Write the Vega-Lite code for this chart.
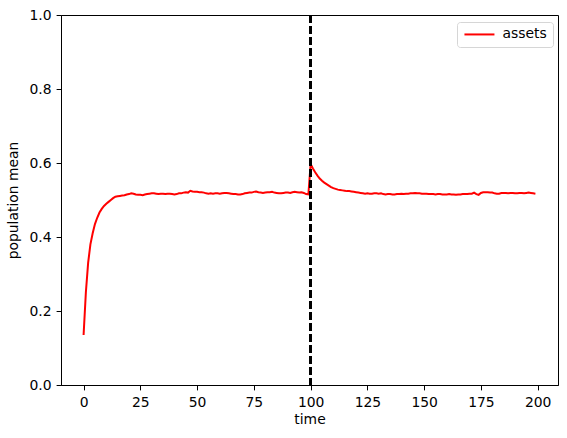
{
  "$schema": "https://vega.github.io/schema/vega-lite/v6.json",
  "width": 497,
  "height": 370,
  "autosize": {"type": "none"},
  "padding": {"left": 61, "top": 15, "right": 9, "bottom": 53},
  "background": "white",
  "data": {
    "values": [
      {"time": 0, "mean": 0.135}, {"time": 1, "mean": 0.25}, {"time": 2, "mean": 0.33}, {"time": 3, "mean": 0.38},
      {"time": 4, "mean": 0.41}, {"time": 5, "mean": 0.435}, {"time": 6, "mean": 0.452}, {"time": 7, "mean": 0.466},
      {"time": 8, "mean": 0.476}, {"time": 9, "mean": 0.484}, {"time": 10, "mean": 0.49}, {"time": 11, "mean": 0.495},
      {"time": 12, "mean": 0.5}, {"time": 13, "mean": 0.505}, {"time": 14, "mean": 0.509}, {"time": 15, "mean": 0.51},
      {"time": 16, "mean": 0.511}, {"time": 17, "mean": 0.512}, {"time": 18, "mean": 0.513}, {"time": 19, "mean": 0.515},
      {"time": 20, "mean": 0.516}, {"time": 21, "mean": 0.518}, {"time": 22, "mean": 0.517}, {"time": 23, "mean": 0.515},
      {"time": 24, "mean": 0.514}, {"time": 25, "mean": 0.514}, {"time": 26, "mean": 0.513}, {"time": 27, "mean": 0.515},
      {"time": 28, "mean": 0.516}, {"time": 29, "mean": 0.517}, {"time": 30, "mean": 0.518}, {"time": 31, "mean": 0.518},
      {"time": 32, "mean": 0.517}, {"time": 33, "mean": 0.516}, {"time": 34, "mean": 0.517}, {"time": 35, "mean": 0.517},
      {"time": 36, "mean": 0.516}, {"time": 37, "mean": 0.517}, {"time": 38, "mean": 0.517}, {"time": 39, "mean": 0.516},
      {"time": 40, "mean": 0.515}, {"time": 41, "mean": 0.516}, {"time": 42, "mean": 0.518}, {"time": 43, "mean": 0.518},
      {"time": 44, "mean": 0.52}, {"time": 45, "mean": 0.521}, {"time": 46, "mean": 0.52}, {"time": 47, "mean": 0.525},
      {"time": 48, "mean": 0.523}, {"time": 49, "mean": 0.522}, {"time": 50, "mean": 0.522}, {"time": 51, "mean": 0.521},
      {"time": 52, "mean": 0.521}, {"time": 53, "mean": 0.52}, {"time": 54, "mean": 0.518}, {"time": 55, "mean": 0.517},
      {"time": 56, "mean": 0.518}, {"time": 57, "mean": 0.517}, {"time": 58, "mean": 0.518}, {"time": 59, "mean": 0.518},
      {"time": 60, "mean": 0.517}, {"time": 61, "mean": 0.518}, {"time": 62, "mean": 0.519}, {"time": 63, "mean": 0.519},
      {"time": 64, "mean": 0.518}, {"time": 65, "mean": 0.517}, {"time": 66, "mean": 0.516}, {"time": 67, "mean": 0.516},
      {"time": 68, "mean": 0.515}, {"time": 69, "mean": 0.515}, {"time": 70, "mean": 0.516}, {"time": 71, "mean": 0.518},
      {"time": 72, "mean": 0.519}, {"time": 73, "mean": 0.52}, {"time": 74, "mean": 0.52}, {"time": 75, "mean": 0.522},
      {"time": 76, "mean": 0.523}, {"time": 77, "mean": 0.521}, {"time": 78, "mean": 0.52}, {"time": 79, "mean": 0.519},
      {"time": 80, "mean": 0.52}, {"time": 81, "mean": 0.521}, {"time": 82, "mean": 0.521}, {"time": 83, "mean": 0.522},
      {"time": 84, "mean": 0.52}, {"time": 85, "mean": 0.519}, {"time": 86, "mean": 0.518}, {"time": 87, "mean": 0.518},
      {"time": 88, "mean": 0.519}, {"time": 89, "mean": 0.52}, {"time": 90, "mean": 0.52}, {"time": 91, "mean": 0.519},
      {"time": 92, "mean": 0.521}, {"time": 93, "mean": 0.522}, {"time": 94, "mean": 0.521}, {"time": 95, "mean": 0.52},
      {"time": 96, "mean": 0.521}, {"time": 97, "mean": 0.519}, {"time": 98, "mean": 0.516}, {"time": 99, "mean": 0.515},
      {"time": 100, "mean": 0.597}, {"time": 101, "mean": 0.585}, {"time": 102, "mean": 0.575}, {"time": 103, "mean": 0.566},
      {"time": 104, "mean": 0.558}, {"time": 105, "mean": 0.552}, {"time": 106, "mean": 0.547}, {"time": 107, "mean": 0.543},
      {"time": 108, "mean": 0.539}, {"time": 109, "mean": 0.535}, {"time": 110, "mean": 0.532}, {"time": 111, "mean": 0.53},
      {"time": 112, "mean": 0.528}, {"time": 113, "mean": 0.527}, {"time": 114, "mean": 0.526}, {"time": 115, "mean": 0.525},
      {"time": 116, "mean": 0.524}, {"time": 117, "mean": 0.524}, {"time": 118, "mean": 0.523}, {"time": 119, "mean": 0.522},
      {"time": 120, "mean": 0.521}, {"time": 121, "mean": 0.52}, {"time": 122, "mean": 0.519}, {"time": 123, "mean": 0.518},
      {"time": 124, "mean": 0.517}, {"time": 125, "mean": 0.518}, {"time": 126, "mean": 0.517}, {"time": 127, "mean": 0.517},
      {"time": 128, "mean": 0.518}, {"time": 129, "mean": 0.518}, {"time": 130, "mean": 0.517}, {"time": 131, "mean": 0.518},
      {"time": 132, "mean": 0.516}, {"time": 133, "mean": 0.515}, {"time": 134, "mean": 0.516}, {"time": 135, "mean": 0.516},
      {"time": 136, "mean": 0.515}, {"time": 137, "mean": 0.515}, {"time": 138, "mean": 0.516}, {"time": 139, "mean": 0.516},
      {"time": 140, "mean": 0.517}, {"time": 141, "mean": 0.516}, {"time": 142, "mean": 0.517}, {"time": 143, "mean": 0.517},
      {"time": 144, "mean": 0.518}, {"time": 145, "mean": 0.518}, {"time": 146, "mean": 0.519}, {"time": 147, "mean": 0.518},
      {"time": 148, "mean": 0.518}, {"time": 149, "mean": 0.517}, {"time": 150, "mean": 0.517}, {"time": 151, "mean": 0.517},
      {"time": 152, "mean": 0.516}, {"time": 153, "mean": 0.516}, {"time": 154, "mean": 0.516}, {"time": 155, "mean": 0.515},
      {"time": 156, "mean": 0.516}, {"time": 157, "mean": 0.516}, {"time": 158, "mean": 0.515}, {"time": 159, "mean": 0.515},
      {"time": 160, "mean": 0.515}, {"time": 161, "mean": 0.516}, {"time": 162, "mean": 0.515}, {"time": 163, "mean": 0.515},
      {"time": 164, "mean": 0.514}, {"time": 165, "mean": 0.515}, {"time": 166, "mean": 0.515}, {"time": 167, "mean": 0.516},
      {"time": 168, "mean": 0.516}, {"time": 169, "mean": 0.516}, {"time": 170, "mean": 0.517}, {"time": 171, "mean": 0.517},
      {"time": 172, "mean": 0.52}, {"time": 173, "mean": 0.516}, {"time": 174, "mean": 0.514}, {"time": 175, "mean": 0.519},
      {"time": 176, "mean": 0.521}, {"time": 177, "mean": 0.521}, {"time": 178, "mean": 0.521}, {"time": 179, "mean": 0.52},
      {"time": 180, "mean": 0.52}, {"time": 181, "mean": 0.518}, {"time": 182, "mean": 0.517}, {"time": 183, "mean": 0.517},
      {"time": 184, "mean": 0.519}, {"time": 185, "mean": 0.519}, {"time": 186, "mean": 0.519}, {"time": 187, "mean": 0.518},
      {"time": 188, "mean": 0.519}, {"time": 189, "mean": 0.519}, {"time": 190, "mean": 0.518}, {"time": 191, "mean": 0.518},
      {"time": 192, "mean": 0.519}, {"time": 193, "mean": 0.519}, {"time": 194, "mean": 0.518}, {"time": 195, "mean": 0.519},
      {"time": 196, "mean": 0.52}, {"time": 197, "mean": 0.519}, {"time": 198, "mean": 0.518}, {"time": 199, "mean": 0.517}
    ]
  },
  "layer": [
    {
      "mark": {"type": "line", "strokeWidth": 2, "clip": true},
      "encoding": {
        "x": {
          "field": "time",
          "type": "quantitative",
          "scale": {"domain": [-9.95, 208.95], "nice": false, "zero": false},
          "axis": {"values": [0, 25, 50, 75, 100, 125, 150, 175, 200], "title": "time", "labelPadding": 6, "titlePadding": 3}
        },
        "y": {
          "field": "mean",
          "type": "quantitative",
          "scale": {"domain": [0, 1], "nice": false},
          "axis": {"values": [0, 0.2, 0.4, 0.6, 0.8, 1.0], "format": ".1f", "title": "population mean", "labelPadding": 5, "titlePadding": 9}
        },
        "color": {
          "datum": "assets",
          "type": "nominal",
          "scale": {"range": ["#ff0000"]},
          "legend": {
            "title": null,
            "orient": "none",
            "legendX": 396,
            "legendY": 7,
            "symbolType": "M-1,0H5",
            "symbolSize": 100,
            "symbolStrokeWidth": 2,
            "labelOffset": 26,
            "labelFontSize": 13.9,
            "labelFont": "DejaVu Sans",
            "labelColor": "black",
            "strokeColor": "#d6d6d6",
            "cornerRadius": 3,
            "padding": 5.5,
            "fillColor": "white"
          }
        }
      }
    },
    {
      "mark": {"type": "rule", "color": "black", "strokeWidth": 2, "strokeDash": [7.7, 3.3]},
      "encoding": {
        "x": {"datum": 100, "type": "quantitative"}
      }
    }
  ],
  "config": {
    "view": {"stroke": "black", "strokeWidth": 1},
    "axis": {
      "grid": false,
      "domainColor": "black",
      "tickColor": "black",
      "tickSize": 4.9,
      "labelColor": "black",
      "labelFont": "DejaVu Sans",
      "labelFontSize": 13.9,
      "titleFont": "DejaVu Sans",
      "titleFontSize": 13.9,
      "titleFontWeight": "normal",
      "titleColor": "black"
    }
  }
}
